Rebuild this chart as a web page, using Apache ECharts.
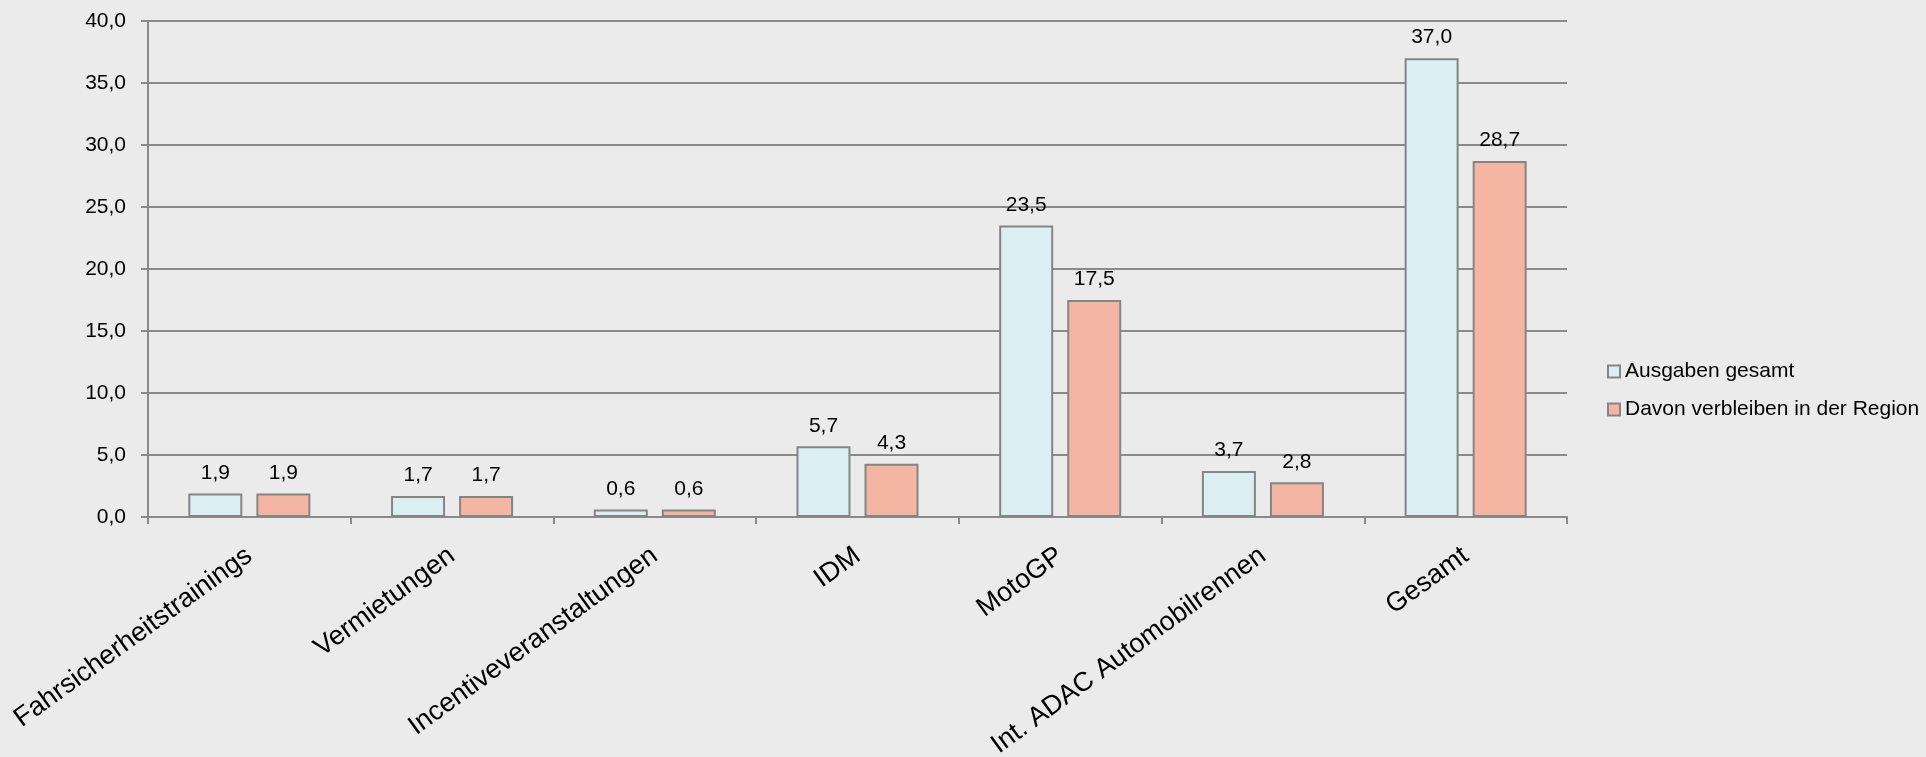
<!DOCTYPE html>
<html>
<head>
<meta charset="utf-8">
<script src="https://cdn.jsdelivr.net/npm/echarts@6/dist/echarts.min.js"></script>
<style>
html,body{margin:0;padding:0;background:#ebebeb;}
#c{width:1926px;height:757px;}
</style>
</head>
<body>
<div id="c"></div>
<script>
const categories = ['Fahrsicherheitstrainings','Vermietungen','Incentiveveranstaltungen','IDM','MotoGP','Int. ADAC Automobilrennen','Gesamt'];
const seriesNames = ['Ausgaben gesamt','Davon verbleiben in der Region'];
const ausgabenGesamt = [1.9, 1.7, 0.6, 5.7, 23.5, 3.7, 37.0];
const davonRegion = [1.9, 1.7, 0.6, 4.3, 17.5, 2.8, 28.7];
const yTicks = {min: 0, max: 40, interval: 5};

const fmt = v => Number(v).toFixed(1).replace('.', ',');
const font = '"Liberation Sans", Arial, sans-serif';
const gray = '#8a8a8a';

const chart = echarts.init(document.getElementById('c'));
chart.setOption({
  backgroundColor: '#ebebeb',
  animation: false,
  textStyle: {fontFamily: font},
  grid: {left: 148, right: 359, top: 21, bottom: 240, containLabel: false, outerBoundsMode: 'none'},
  legend: {
    orient: 'vertical',
    left: 1602,
    top: 356,
    icon: 'rect',
    itemWidth: 12,
    itemHeight: 12,
    itemGap: 17,
    textStyle: {fontSize: 21, color: '#000', fontFamily: font},
    data: seriesNames
  },
  xAxis: {
    type: 'category',
    data: categories,
    boundaryGap: true,
    axisLine: {lineStyle: {color: gray, width: 2}},
    axisTick: {show: true, length: 7, lineStyle: {color: gray, width: 2}, alignWithLabel: false},
    axisLabel: {rotate: 36, fontSize: 27, color: '#000', margin: 36, interval: 0, fontFamily: font}
  },
  yAxis: {
    type: 'value',
    min: yTicks.min,
    max: yTicks.max,
    interval: yTicks.interval,
    axisLine: {show: true, lineStyle: {color: gray, width: 2}},
    axisTick: {show: true, length: 7, lineStyle: {color: gray, width: 2}},
    splitLine: {show: true, lineStyle: {color: gray, width: 2}},
    axisLabel: {fontSize: 21, color: '#000', margin: 22, formatter: fmt, fontFamily: font}
  },
  series: [
    {
      name: seriesNames[0],
      type: 'bar',
      data: ausgabenGesamt,
      barWidth: 54,
      barGap: '26%',
      itemStyle: {color: '#dbeef2', borderColor: '#858585', borderWidth: 2},
      label: {show: true, position: 'top', distance: 10, fontSize: 21, color: '#000', formatter: p => fmt(p.value), fontFamily: font}
    },
    {
      name: seriesNames[1],
      type: 'bar',
      data: davonRegion,
      barWidth: 54,
      barGap: '26%',
      itemStyle: {color: '#f4b5a3', borderColor: '#858585', borderWidth: 2},
      label: {show: true, position: 'top', distance: 10, fontSize: 21, color: '#000', formatter: p => fmt(p.value), fontFamily: font}
    }
  ]
});
</script>
</body>
</html>
